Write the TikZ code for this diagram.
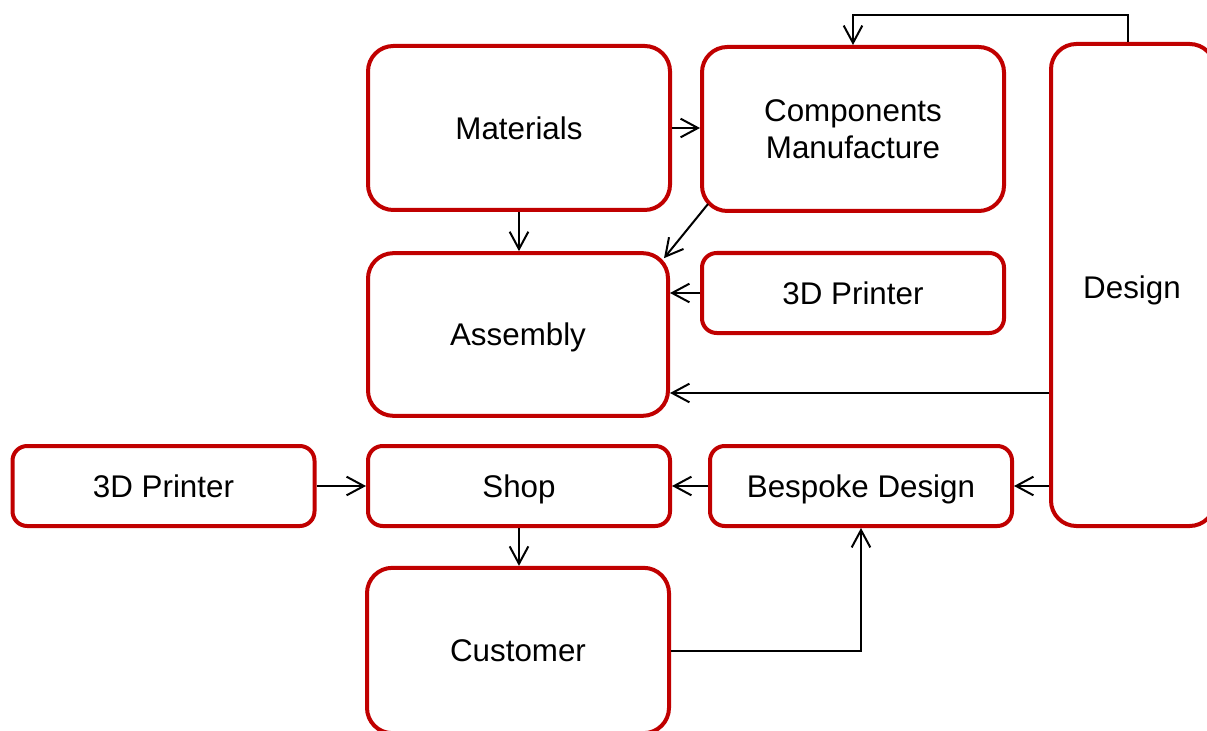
\documentclass[tikz,border=0pt]{standalone}
\usepackage{fontspec}
\setmainfont{Liberation Sans}
\usetikzlibrary{arrows.meta,calc}
\definecolor{boxred}{RGB}{192,0,0}
\begin{document}
\begin{tikzpicture}[x=0.75pt,y=-0.75pt,
  label font/.style={font=\fontsize{23.5}{27.75}\selectfont},
  box/.style={draw=boxred,line width=3pt,fill=white,align=center,
    inner sep=0pt,label font},
  oneline/.style={text height=17pt,text depth=0pt},
  bigbox/.style={box,oneline,rounded corners=19pt,minimum width=226.5pt,minimum height=123pt},
  smallbox/.style={box,oneline,rounded corners=11pt,minimum width=226.5pt,minimum height=60pt},
  link/.style={draw=black,line width=1.5pt,-{Straight Barb[length=13pt,width=14pt,line width=1.5pt]}}]
\useasboundingbox (0,0) rectangle (1207,731);

% process boxes
\node[bigbox] (mat) at (519,128) {Materials};
\node[box,rounded corners=19pt,minimum width=226.5pt,minimum height=123pt] (comp) at (853,129) {Components\\Manufacture};
\node[box,rounded corners=19pt,minimum width=123pt,minimum height=361.5pt] (des) at (1133,285) {};
\node[label font,oneline,inner sep=0pt] (destext) at (1132,287) {Design};
\node[bigbox,minimum width=225pt,minimum height=122pt] (asm) at (518,334.5) {Assembly};
\node[smallbox] (p3r) at (853,293) {3D Printer};
\node[smallbox] (p3l) at (163.5,486) {3D Printer};
\node[smallbox] (shop) at (519,486) {Shop};
\node[smallbox] (besp) at (861,486) {Bespoke Design};
\node[bigbox,minimum height=124pt] (cust) at (518,650.5) {Customer};

% connectors
\draw[link] (mat.east) -- (comp.west |- mat.east);
\draw[link] (mat.south) -- (mat.south |- asm.north);
\draw[link] ($(comp.south west)+(8,-9)$) -- ($(asm.north east)+(-6,7)$);
\draw[link] (p3r.west) -- (p3r.west -| asm.east);
\coordinate (desasm) at ($(des.west)+(0,108)$);
\draw[link] (desasm) -- (desasm -| asm.east);
\coordinate (destop) at ($(des.north)+(-5,0)$);
\draw[link] (destop) -- ++(0,-27) -| (comp.north);
\draw[link] (besp.east -| des.west) -- (besp.east);
\draw[link] (besp.west) -- (shop.east);
\draw[link] (p3l.east) -- (shop.west);
\draw[link] (shop.south) -- (shop.south |- cust.north);
\draw[link] (cust.east) -| (besp.south);
\end{tikzpicture}
\end{document}
